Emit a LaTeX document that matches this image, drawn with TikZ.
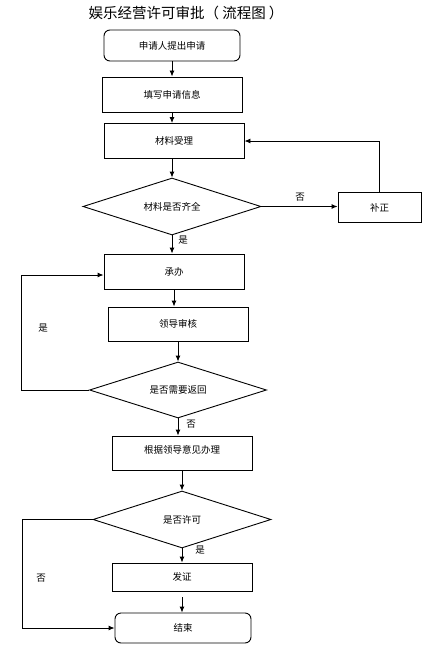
\documentclass[tikz,border=0pt]{standalone}
\usepackage{fontspec}
\setmainfont{Noto Sans CJK SC}
\usetikzlibrary{shapes.geometric,arrows.meta}
\tikzset{
  box/.style={draw, line width=0.9pt, rectangle, minimum width=140pt, minimum height=35pt, inner sep=0pt, font=\fontsize{9.5}{11}\selectfont},
  rbox/.style={box, rounded corners=6pt, minimum width=136pt, minimum height=31pt},
  dia/.style={draw, line width=0.9pt, diamond, aspect=3, minimum width=178pt, minimum height=57pt, inner sep=0pt, font=\fontsize{9.5}{11}\selectfont},
  arr/.style={line width=0.9pt, -{Latex[length=6pt,width=5pt]}},
  lab/.style={font=\fontsize{9.5}{11}\selectfont, inner sep=0pt}
}
\begin{document}
\begin{tikzpicture}[x=1pt,y=-1pt]
\useasboundingbox (0,0) rectangle (429,650);
\node[font=\fontsize{14.5}{16}\selectfont, inner sep=0pt] (title) at (186,13) {娱乐经营许可审批（ 流程图 ）};
\node[rbox] (s1) at (172,45.5) {申请人提出申请};
\node[box] (s2) at (172,94.5) {填写申请信息};
\node[box] (s3) at (174,141) {材料受理};
\node[dia] (d1) at (172,206.5) {材料是否齐全};
\node[box, minimum width=83pt, minimum height=30pt] (bz) at (379.5,207.5) {补正};
\node[box] (cb) at (174,271.5) {承办};
\node[box, minimum height=34pt] (ld) at (178,324) {领导审核};
\node[dia, minimum width=177pt, minimum height=56pt] (d2) at (178,390) {是否需要返回};
\node[box, minimum height=34pt] (gj) at (182,453) {\raisebox{7pt}{根据领导意见办理}};
\node[dia] (d3) at (182,519.5) {是否许可};
\node[box, minimum height=28pt] (fz) at (182,577) {\raisebox{2pt}{发证}};
\node[rbox, minimum height=30pt] (end) at (183,628) {结束};

\draw[arr] (s1.south) -- (s1.south |- s2.north);
\draw[arr] (s2.south) -- (s2.south |- s3.north);
\draw[arr] (d1.north |- s3.south) -- (d1.north);
\draw[arr] (d1.east) -- (d1.east -| bz.west);
\draw[arr] (bz.north) |- (s3.east);
\draw[arr] (d1.south) -- (d1.south |- cb.north);
\draw[arr] (cb.south) -- (cb.south |- ld.north);
\draw[arr] (d2.north |- ld.south) -- (d2.north);
\draw[arr] (d2.south) -- (d2.south |- gj.north);
\draw[arr] (d3.north |- gj.south) -- (d3.north);
\draw[arr] (d3.south) -- (fz.north);
\draw[arr, shorten <=6pt] (fz.south) -- (fz.south |- end.north);
\coordinate (c1) at ([yshift=-3.5pt]cb.west);
\draw[arr] (d2.west) -- ++(-68,0) |- (c1);
\draw[arr] (d3.west) -- ++(-70,0) |- (end.west);

\node[lab] (n1) at (300,197) {否};
\node[lab] (y1) at (183,240) {是};
\node[lab] (y2) at (43,328) {是};
\node[lab] (n2) at (191,424) {否};
\node[lab] (y3) at (200,550) {是};
\node[lab] (n3) at (41,578) {否};
\end{tikzpicture}
\end{document}
